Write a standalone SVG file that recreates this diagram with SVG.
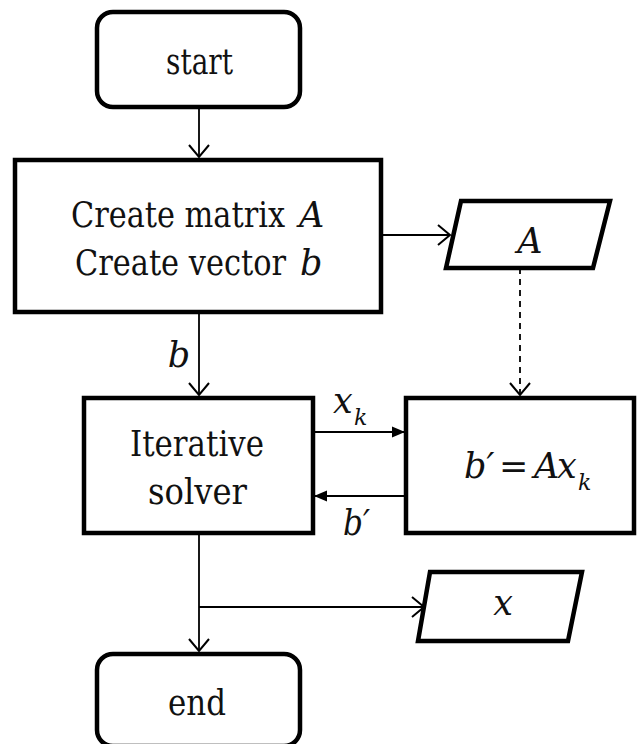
<svg xmlns="http://www.w3.org/2000/svg" width="637" height="744" viewBox="0 0 637 744">
<style>
.box{fill:#fff;stroke:#000;stroke-width:4.5}
.t{font-family:'DejaVu Serif',serif;font-size:35px;fill:#111}
.i{font-style:italic}
.s{font-size:22px}
.c{stroke:#000;stroke-width:1.8;fill:none}
.d{stroke-dasharray:6 5}
</style>
<defs>
<marker id="open" markerUnits="userSpaceOnUse" viewBox="0 0 16 22" markerWidth="16" markerHeight="22" refX="14" refY="11" orient="auto">
<path d="M2,1 L14,11 L2,21" fill="none" stroke="#000" stroke-width="2"/>
</marker>
<marker id="fill" markerUnits="userSpaceOnUse" viewBox="0 0 14 12" markerWidth="14" markerHeight="12" refX="13" refY="6" orient="auto">
<path d="M0,0.5 L13,6 L0,11.5 z" fill="#000"/>
</marker>
</defs>
<rect width="637" height="744" fill="#fff"/>
<g id="connectors">
<path class="c" d="M199,107 L199,157" marker-end="url(#open)"/>
<path class="c" d="M381,235 L450,235" marker-end="url(#open)"/>
<path class="c" d="M199,312 L199,395" marker-end="url(#open)"/>
<path class="c d" d="M520,268 L520,395" marker-end="url(#open)"/>
<path class="c" d="M313,432 L405,432" marker-end="url(#fill)"/>
<path class="c" d="M406,496 L314,496" marker-end="url(#fill)"/>
<path class="c" d="M199,533 L199,651" marker-end="url(#open)"/>
<path class="c" d="M199,607 L424,607" marker-end="url(#open)"/>
<text class="t i" x="179" y="367" text-anchor="middle">b</text>
<text class="t i" x="333" y="413">x<tspan class="s" x="354" y="425">k</tspan></text>
<text class="t i" x="343" y="535" textLength="27" lengthAdjust="spacingAndGlyphs">b′</text>
</g>
<g id="start">
<rect class="box" x="97" y="12" width="203" height="95" rx="16"/>
<text class="t" x="166" y="74" textLength="67" lengthAdjust="spacingAndGlyphs">start</text>
</g>
<g id="create">
<rect class="box" x="15" y="160" width="366" height="152"/>
<text class="t" x="71" y="227" font-size="32" textLength="214" lengthAdjust="spacingAndGlyphs">Create matrix</text>
<text class="t i" x="299" y="227">A</text>
<text class="t" x="75" y="275" font-size="32" textLength="211" lengthAdjust="spacingAndGlyphs">Create vector</text>
<text class="t i" x="300" y="275">b</text>
</g>
<g id="outA">
<polygon class="box" points="461,201 610,201 593,268 446,268"/>
<text class="t i" x="530" y="253" text-anchor="middle">A</text>
</g>
<g id="solver">
<rect class="box" x="84" y="398" width="229" height="135"/>
<text class="t" x="130" y="456" textLength="134" lengthAdjust="spacingAndGlyphs">Iterative</text>
<text class="t" x="148" y="504" textLength="99" lengthAdjust="spacingAndGlyphs">solver</text>
</g>
<g id="matvec">
<rect class="box" x="406" y="398" width="228" height="135"/>
<text class="t i" y="478" font-size="32"><tspan x="464">b′</tspan><tspan x="499" font-style="normal">=</tspan><tspan x="534">A</tspan><tspan x="557">x</tspan><tspan class="s" x="578" y="490">k</tspan></text>
</g>
<g id="outX">
<polygon class="box" points="430,572 582,572 568,641 418,641"/>
<text class="t i" x="503" y="615" text-anchor="middle">x</text>
</g>
<g id="end">
<rect class="box" x="97" y="654" width="203" height="92" rx="16"/>
<text class="t" x="168" y="715" textLength="58" lengthAdjust="spacingAndGlyphs">end</text>
</g>
</svg>
